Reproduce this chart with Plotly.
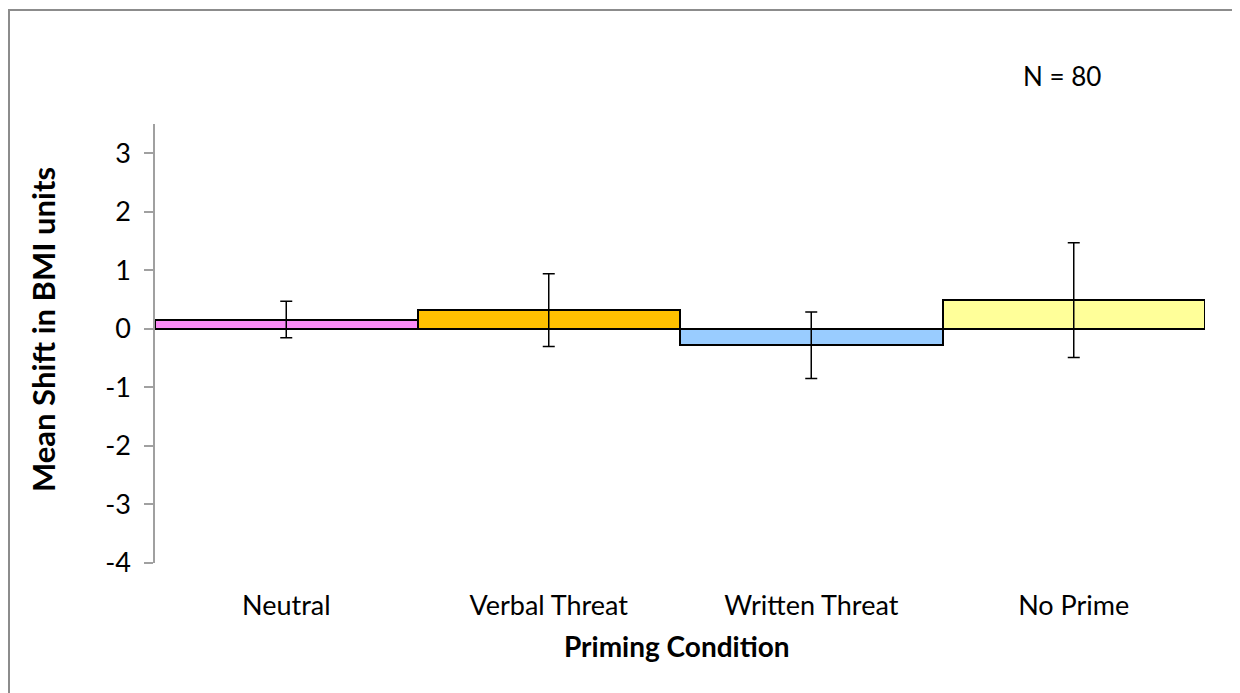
import plotly.graph_objects as go

# data
conditions = ['Neutral', 'Verbal Threat', 'Written Threat', 'No Prime']
mean_shift = [0.16, 0.32, -0.28, 0.49]
error = [0.31, 0.62, 0.57, 0.98]
bar_colors = ['#FA8CF5', '#FFC000', '#99CCFF', '#FFFF99']
y_ticks = [-4, -3, -2, -1, 0, 1, 2, 3]
y_tick_text = ['-4', '-3', '-2', '-1', '0', '1', '2', '3']

FONT = 'Lato'

# page offset of 8px (body margin) -> work out plot-area-relative positions
PX_L, PX_R, PX_T, PX_B = 155, 1205, 124, 563


def px(xp):
    return (xp - PX_L) / (PX_R - PX_L)


def py(yp):
    return (PX_B - yp) / (PX_B - PX_T)


fig = go.Figure()
fig.add_trace(go.Bar(
    x=conditions,
    y=mean_shift,
    width=1,
    marker=dict(color=bar_colors, line=dict(color='black', width=2)),
    error_y=dict(type='data', array=error, visible=True,
                 color='black', thickness=1.5, width=6),
))

fig.update_layout(
    width=1232, height=685,
    margin=dict(l=PX_L - 8, r=1240 - PX_R, t=PX_T - 8, b=685 + 8 - PX_B),
    plot_bgcolor='white', paper_bgcolor='white',
    showlegend=False,
    bargap=0,
    font=dict(family=FONT, size=26, color='black'),
    xaxis=dict(
        showline=False, showgrid=False, ticks='', zeroline=False,
        ticklabelstandoff=24,
        tickfont=dict(size=27),
    ),
    yaxis=dict(
        range=[-4, 3.5],
        tickvals=y_ticks, ticktext=y_tick_text,
        showgrid=False,
        showline=True, linecolor='#a0a0a0', linewidth=1.5,
        ticks='outside', ticklen=9, tickcolor='#a0a0a0', tickwidth=1.5,
        ticklabelstandoff=8,
        zeroline=True, zerolinecolor='#888888', zerolinewidth=2,
        tickfont=dict(size=27),
    ),
)

# axis titles
fig.add_annotation(text='<b>Mean Shift in BMI units</b>', xref='paper', yref='paper',
                   x=px(43), y=py(330), xanchor='center', yanchor='middle',
                   textangle=-90, showarrow=False, font=dict(size=31))
fig.add_annotation(text='<b>Priming Condition</b>', xref='paper', yref='paper',
                   x=px(677), y=py(646), xanchor='center', yanchor='middle',
                   showarrow=False, font=dict(size=28))

# outer chart border
fig.add_shape(type='rect', xref='paper', yref='paper',
              x0=px(9), x1=px(1234), y0=py(705), y1=py(10),
              line=dict(color='#8c8c8c', width=2), fillcolor='rgba(0,0,0,0)')

fig.add_annotation(text='N = 80', xref='paper', yref='paper',
                   x=px(1062), y=py(76), xanchor='center', yanchor='middle',
                   showarrow=False, font=dict(size=26))

fig.write_html("out.html")
